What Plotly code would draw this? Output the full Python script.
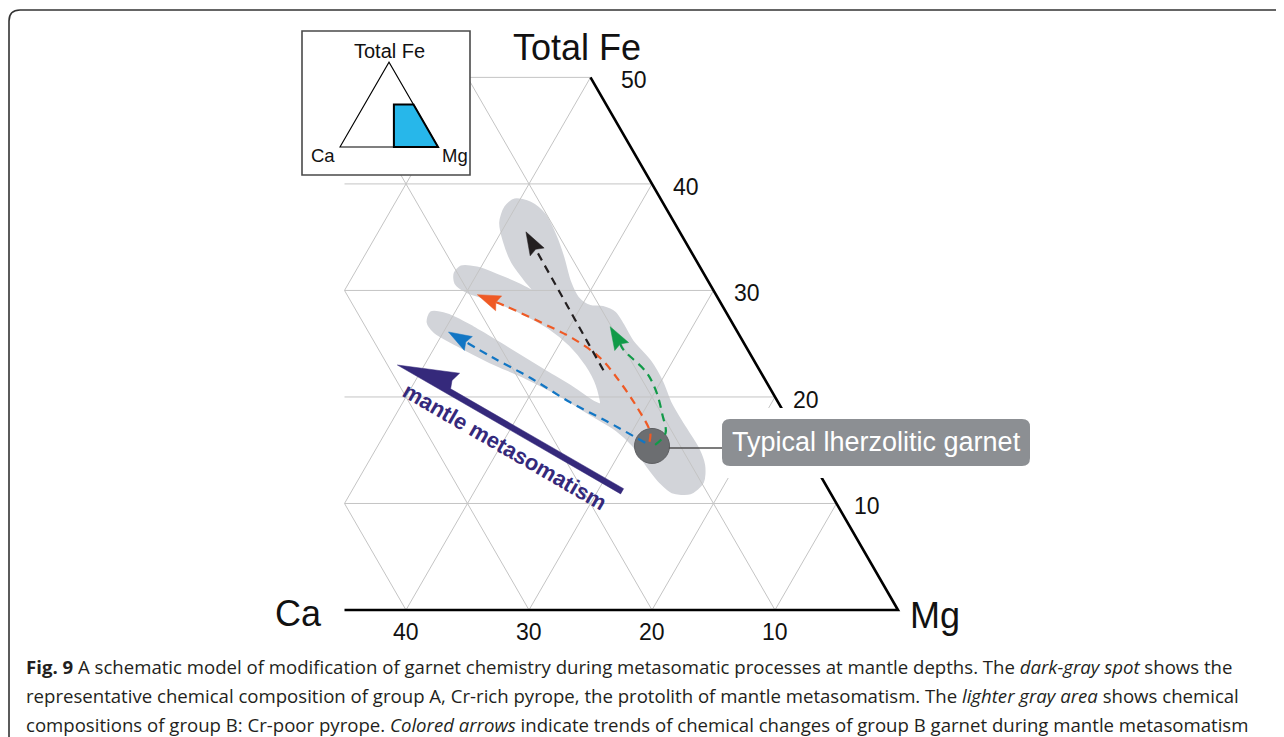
import math
import plotly.graph_objects as go

# ---------------- DATA (ternary compositions, %) ----------------
FE_TICKS = [10, 20, 30, 40, 50]          # Total Fe, right edge
CA_TICKS = [40, 30, 20, 10]              # Ca, bottom edge
GRID_STEP = 10
CA_MAX = 45                              # left limit of enlarged field
FE_MAX = 50                              # top limit of enlarged field

# lighter gray area: group B, Cr-poor pyrope (outline)
BLOB_CA = [11.4, 9.9, 9.0, 8.7, 8.8, 8.8, 8.5, 8.5, 9.0, 9.0,
           9.1, 9.8, 10.8, 11.4, 11.3, 10.7, 10.3, 10.2, 10.8, 11.9,
           13.0, 14.1, 14.7, 15.0, 14.8, 14.6, 15.5, 16.7, 18.2, 19.4,
           20.2, 20.6, 20.1, 18.4, 16.6, 15.1, 14.2, 13.8, 13.9, 14.5,
           15.0, 16.0, 17.6, 19.5, 21.3, 22.8, 24.0, 24.7, 24.6, 23.4,
           21.5, 19.3, 17.4, 15.7, 14.4, 13.8, 13.6, 13.3, 12.8]
BLOB_FE = [11.0, 12.0, 13.6, 15.2, 17.4, 19.5, 21.4, 23.3, 25.2, 26.8,
           27.9, 28.4, 28.5, 29.3, 30.8, 33.1, 35.2, 37.1, 38.2, 38.5,
           37.8, 36.4, 34.6, 32.7, 31.0, 29.8, 30.5, 31.3, 32.1, 32.2,
           31.6, 30.7, 29.9, 29.1, 27.9, 26.5, 24.9, 23.0, 21.1, 19.3,
           19.5, 20.8, 22.5, 24.6, 26.5, 27.7, 27.9, 27.0, 26.1, 24.9,
           23.3, 21.8, 20.2, 18.3, 16.9, 15.5, 13.6, 12.0, 11.1]

# dark-gray spot: group A, Cr-rich pyrope
SPOT_CA, SPOT_FE = 12.3, 15.4

# metasomatic trends (colored arrows)
BLUE_CA = [12.7, 14.8, 16.9, 19.0, 21.1, 23.5]
BLUE_FE = [15.7, 17.7, 19.5, 21.8, 23.7, 26.1]
ORANGE_CA = [12.3, 11.8, 11.7, 11.9, 12.4, 13.7, 15.4, 17.6, 19.4]
ORANGE_FE = [15.8, 16.7, 19.0, 21.4, 23.7, 25.5, 26.9, 28.5, 29.6]
BLACK_CA = [12.7, 12.5]
BLACK_FE = [22.5, 35.5]
GREEN_CA = [12.0, 10.6, 10.0, 9.4, 9.3, 10.1, 10.1]
GREEN_FE = [15.5, 16.6, 18.3, 20.5, 22.3, 24.4, 26.6]

# "mantle metasomatism" arrow (tail -> tip)
META_TAIL = (17.1, 10.9)
META_TIP = (29.2, 23.0)

SPOT_LABEL = "Typical lherzolitic garnet"
META_LABEL = "mantle metasomatism"

CAPTION = [
    "<b>Fig. 9</b> A schematic model of modification of garnet chemistry during metasomatic processes at mantle depths. The <i>dark-gray spot</i> shows the",
    "representative chemical composition of group A, Cr-rich pyrope, the protolith of mantle metasomatism. The <i>lighter gray area</i> shows chemical",
    "compositions of group B: Cr-poor pyrope. <i>Colored arrows</i> indicate trends of chemical changes of group B garnet during mantle metasomatism",
]

# ---------------- LAYOUT / STYLE ----------------
PAGE_W, PAGE_H = 1284, 737
OFF = 8                                   # default page body margin
W, H = PAGE_W - OFF, PAGE_H - OFF         # figure size
S3 = math.sqrt(3) / 2
PXU = 12.3                                # pixels per composition unit
MG_CORNER = (898 - OFF, 610 - OFF)        # figure px of Mg corner
X_RANGE = [100 - MG_CORNER[0] / PXU, 100 + (W - MG_CORNER[0]) / PXU]
Y_RANGE = [-(H - MG_CORNER[1]) / PXU, MG_CORNER[1] / PXU]

FONT = "Liberation Sans, Arial, Helvetica, sans-serif"
CAP_FONT = "Open Sans, sans-serif"
GRID_COL = "#c4c4c4"
BLOB_COL = "#d2d4d9"
SPOT_COL = "#6c6e71"
BOX_COL = "#8c8f93"
META_COL = "#35297b"


def txy(ca, fe):
    """ternary (Ca, Fe) -> cartesian (Mg corner at x=100)"""
    return 100 - ca - fe / 2.0, fe * S3


X_MIN = 100 - CA_MAX
Y_MAX = FE_MAX * S3

fig = go.Figure()

# light gray field
bx, by = zip(*[txy(c, f) for c, f in zip(BLOB_CA, BLOB_FE)])
fig.add_trace(go.Scatter(x=list(bx) + [bx[0]], y=list(by) + [by[0]], mode="lines",
                         line=dict(color=BLOB_COL, width=3, shape="spline", smoothing=0.8),
                         fill="toself", fillcolor=BLOB_COL, hoverinfo="skip"))

# grid
gx, gy = [], []
for f in range(GRID_STEP, FE_MAX + 1, GRID_STEP):
    gx += [X_MIN, 100 - f / 2.0, None]
    gy += [f * S3, f * S3, None]
for c in range(GRID_STEP, 100, GRID_STEP):
    hi = min(FE_MAX, 2 * (100 - c - X_MIN))
    if hi > 0:
        x0, y0 = txy(c, 0)
        x1, y1 = txy(c, hi)
        gx += [x0, x1, None]
        gy += [y0, y1, None]
for m in range(GRID_STEP, 100, GRID_STEP):
    lo = max(0, 2 * (X_MIN - m))
    hi = min(FE_MAX, 100 - m)
    if hi > lo:
        gx += [m + lo / 2.0, m + hi / 2.0, None]
        gy += [lo * S3, hi * S3, None]
fig.add_trace(go.Scatter(x=gx, y=gy, mode="lines", line=dict(color=GRID_COL, width=1),
                         hoverinfo="skip"))

# triangle edges
ex = [X_MIN, 100, 100 - FE_MAX / 2.0]
ey = [0, 0, Y_MAX]
fig.add_trace(go.Scatter(x=ex, y=ey, mode="lines", line=dict(color="black", width=2.6),
                         hoverinfo="skip"))

# spot
sx, sy = txy(SPOT_CA, SPOT_FE)
fig.add_trace(go.Scatter(x=[sx], y=[sy], mode="markers",
                         marker=dict(size=35, color=SPOT_COL, line=dict(color="#5e5f62", width=1)),
                         hoverinfo="skip"))


def add_trend(cas, fes, color, head_len=23, head_half=8, notch=3):
    pts = [txy(c, f) for c, f in zip(cas, fes)]
    tx, ty = pts[-1]
    px_, py_ = pts[-2]
    d = math.hypot(tx - px_, ty - py_)
    ux, uy = (tx - px_) / d, (ty - py_) / d
    nx, ny = -uy, ux
    L, Hh, N = head_len / PXU, head_half / PXU, notch / PXU
    bxc, byc = tx - L * ux, ty - L * uy
    nxp, nyp = bxc + N * ux, byc + N * uy
    lx = [p[0] for p in pts[:-1]] + [nxp]
    ly = [p[1] for p in pts[:-1]] + [nyp]
    fig.add_trace(go.Scatter(x=lx, y=ly, mode="lines",
                             line=dict(color=color, width=2.2, dash="8px,6px", shape="spline"),
                             hoverinfo="skip"))
    hx = [tx, bxc + Hh * nx, nxp, bxc - Hh * nx, tx]
    hy = [ty, byc + Hh * ny, nyp, byc - Hh * ny, ty]
    fig.add_trace(go.Scatter(x=hx, y=hy, mode="lines", fill="toself", fillcolor=color,
                             line=dict(color=color, width=0.5), hoverinfo="skip"))


add_trend(BLUE_CA, BLUE_FE, "#1276c4")
add_trend(ORANGE_CA, ORANGE_FE, "#ef5a25")
add_trend(BLACK_CA, BLACK_FE, "#231f20")
add_trend(GREEN_CA, GREEN_FE, "#119a48")

# mantle metasomatism arrow (geometry in pixels along/perpendicular to the arrow)
tipx, tipy = txy(*META_TIP)
tlx, tly = txy(*META_TAIL)
dd = math.hypot(tlx - tipx, tly - tipy)
ux, uy = (tlx - tipx) / dd, (tly - tipy) / dd      # tip -> tail
nx, ny = -uy, ux                                     # upper side
if ny < 0:
    nx, ny = -nx, -ny
alen = dd * PXU
outline = [(0, 0), (58, 24), (55, 14), (58, 6), (alen, 6), (alen, 0), (0, 0)]
mx = [tipx + (a * ux + p * nx) / PXU for a, p in outline]
my = [tipy + (a * uy + p * ny) / PXU for a, p in outline]
fig.add_trace(go.Scatter(x=mx, y=my, mode="lines", fill="toself", fillcolor=META_COL,
                         line=dict(color=META_COL, width=0.5), hoverinfo="skip"))
ang = math.degrees(math.atan2(-(tly - tipy), tlx - tipx))   # clockwise screen angle

# ---------------- inset ----------------
INSET_BOX = (302 - OFF, 31 - OFF, 470 - OFF, 175 - OFF)   # fig px: left, top, right, bottom
INSET_ORIGIN = (340 - OFF, 147 - OFF)                     # fig px of Ca corner
INSET_SCALE = 0.98                                        # px per unit
x2_dom = [INSET_BOX[0] / W, INSET_BOX[2] / W]
y2_dom = [1 - INSET_BOX[3] / H, 1 - INSET_BOX[1] / H]
x2_rng = [(INSET_BOX[0] - INSET_ORIGIN[0]) / INSET_SCALE, (INSET_BOX[2] - INSET_ORIGIN[0]) / INSET_SCALE]
y2_rng = [(INSET_ORIGIN[1] - INSET_BOX[3]) / INSET_SCALE, (INSET_ORIGIN[1] - INSET_BOX[1]) / INSET_SCALE]


def pth(points, close=True):
    s = "M " + " L ".join(f"{x:.4f},{y:.4f}" for x, y in points)
    return s + (" Z" if close else "")


def rrect(x0, y0, x1, y1, r):
    return (f"M {x0 + r},{y0} L {x1 - r},{y0} Q {x1},{y0} {x1},{y0 + r} "
            f"L {x1},{y1 - r} Q {x1},{y1} {x1 - r},{y1} L {x0 + r},{y1} "
            f"Q {x0},{y1} {x0},{y1 - r} L {x0},{y0 + r} Q {x0},{y0} {x0 + r},{y0} Z")


shapes = []
# outer frame (page pixel positions -> paper)
fx = lambda p: (p - OFF) / W
fy = lambda p: 1 - (p - OFF) / H
frame = (f"M {fx(9)},{fy(760)} L {fx(9)},{fy(21)} Q {fx(9)},{fy(10)} {fx(20)},{fy(10)} "
         f"L {fx(1300)},{fy(10)}")
shapes.append(dict(type="path", xref="paper", yref="paper", path=frame,
                   line=dict(color="#333333", width=1.6), layer="above"))

shapes.append(dict(type="rect", xref="x2 domain", yref="y2 domain", x0=0, x1=1, y0=0, y1=1,
                   fillcolor="white", line=dict(color="#4a4a4a", width=1.6), layer="above"))
tri = [txy(100, 0), txy(0, 0), txy(0, 100)]
shapes.append(dict(type="path", xref="x2", yref="y2", path=pth(tri),
                   line=dict(color="black", width=1.1), layer="above"))
trap = [(X_MIN, 0), (100, 0), (100 - FE_MAX / 2.0, Y_MAX), (X_MIN, Y_MAX)]
shapes.append(dict(type="path", xref="x2", yref="y2", path=pth(trap),
                   fillcolor="#27b7ea", line=dict(color="black", width=2), layer="above"))

# label callout (pixel offsets from the spot)
shapes.append(dict(type="rect", xref="x", yref="y", xsizemode="pixel", ysizemode="pixel",
                   xanchor=sx, yanchor=sy, x0=60, x1=390, y0=-32, y1=38,
                   fillcolor="white", line=dict(width=0), layer="above"))
shapes.append(dict(type="path", xref="x", yref="y", xsizemode="pixel", ysizemode="pixel",
                   xanchor=sx, yanchor=sy, path=rrect(70, -20, 378, 27, 8),
                   fillcolor=BOX_COL, line=dict(width=0), layer="above"))
shapes.append(dict(type="line", xref="x", yref="y", xsizemode="pixel", ysizemode="pixel",
                   xanchor=sx, yanchor=sy, x0=17, x1=70, y0=-2, y1=-2,
                   line=dict(color="#505050", width=1.5), layer="above"))

# ---------------- annotations ----------------
ann = []
ann.append(dict(x=sx, y=sy, xref="x", yref="y", text=SPOT_LABEL, showarrow=False,
                xshift=224, yshift=3.5, font=dict(family=FONT, size=27, color="white")))
for c in CA_TICKS:
    x, y = txy(c, 0)
    ann.append(dict(x=x, y=y, xref="x", yref="y", text=str(c), showarrow=False,
                    yshift=-22, font=dict(family=FONT, size=23, color="#111111")))
FE_TICK_SHIFT = {50: 28, 40: 19, 30: 18, 20: 16, 10: 15}
for f in FE_TICKS:
    x, y = txy(0, f)
    ann.append(dict(x=x, y=y, xref="x", yref="y", text=str(f), showarrow=False,
                    xanchor="left", xshift=FE_TICK_SHIFT.get(f, 17), yshift=-3,
                    font=dict(family=FONT, size=23, color="#111111")))
ax_, ay_ = txy(0, FE_MAX)
ann.append(dict(x=ax_, y=ay_, xref="x", yref="y", text="Total Fe", showarrow=False,
                xshift=-13.5, yshift=30, font=dict(family=FONT, size=36, color="#111111")))
cx_, cy_ = txy(CA_MAX, 0)
ann.append(dict(x=cx_, y=cy_, xref="x", yref="y", text="Ca", showarrow=False,
                xshift=-46, yshift=-3, font=dict(family=FONT, size=36, color="#111111")))
mx_, my_ = txy(0, 0)
ann.append(dict(x=mx_, y=my_, xref="x", yref="y", text="Mg", showarrow=False,
                xshift=37, yshift=-5, font=dict(family=FONT, size=36, color="#111111")))
# arrow label
ann.append(dict(x=(tipx + tlx) / 2, y=(tipy + tly) / 2, xref="x", yref="y", text=f"<b>{META_LABEL}</b>",
                showarrow=False, textangle=ang, xshift=-5, yshift=-17.5,
                font=dict(family=FONT, size=22, color=META_COL)))
# inset labels
ix, iy = txy(0, 100)
ann.append(dict(x=ix, y=iy, xref="x2", yref="y2", text="Total Fe", showarrow=False,
                xshift=0, yshift=11, font=dict(family=FONT, size=20, color="#111111")))
ix, iy = txy(100, 0)
ann.append(dict(x=ix, y=iy, xref="x2", yref="y2", text="Ca", showarrow=False,
                xshift=-17, yshift=-8, font=dict(family=FONT, size=18.5, color="#111111")))
ix, iy = txy(0, 0)
ann.append(dict(x=ix, y=iy, xref="x2", yref="y2", text="Mg", showarrow=False,
                xshift=17, yshift=-8, font=dict(family=FONT, size=18.5, color="#111111")))
# caption
CAP_Y = [666, 695.5, 724.5]
for line, ypx in zip(CAPTION, CAP_Y):
    ann.append(dict(x=(24 - OFF) / W, y=1 - (ypx - OFF) / H, xref="paper", yref="paper",
                    text=line, showarrow=False, xanchor="left", yanchor="middle",
                    font=dict(family=CAP_FONT, size=18.6, color="#231f20")))

ax_common = dict(visible=False, showgrid=False, zeroline=False, fixedrange=True)
fig.update_layout(
    width=W, height=H, margin=dict(l=0, r=0, t=0, b=0),
    paper_bgcolor="white", plot_bgcolor="rgba(0,0,0,0)", showlegend=False,
    xaxis=dict(range=X_RANGE, domain=[0, 1], **ax_common),
    yaxis=dict(range=Y_RANGE, domain=[0, 1], **ax_common),
    xaxis2=dict(range=x2_rng, domain=x2_dom, anchor="y2", **ax_common),
    yaxis2=dict(range=y2_rng, domain=y2_dom, anchor="x2", **ax_common),
    shapes=shapes, annotations=ann,
)
fig.write_html("out.html")
